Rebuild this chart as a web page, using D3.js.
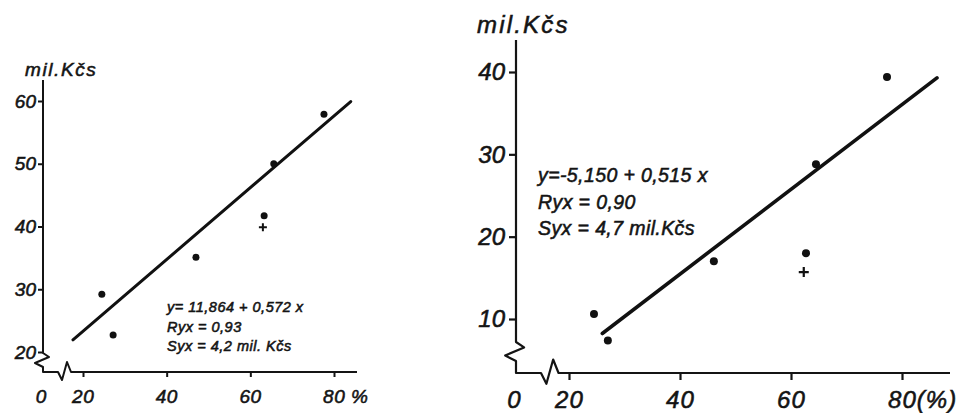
<!DOCTYPE html>
<html>
<head>
<meta charset="utf-8">
<script src="https://cdn.jsdelivr.net/npm/d3@7/dist/d3.min.js"></script>
<style>
  body { margin: 0; background: #fff; }
  svg { display: block; }
  .chart text { font-family: "Liberation Sans", Arial, sans-serif; font-style: italic; fill: #141414; stroke: #141414; stroke-width: 0.55px; }
</style>
</head>
<body>
<svg id="chart" width="970" height="413"></svg>
<script>
// Shared x ticks (share in %)
const xTicks = [20, 40, 60, 80];

// Left panel: observed values (x in %, y in mil. Kčs)
const leftYTicks = [20, 30, 40, 50, 60];
const leftX = [24.5, 27.2, 47.0, 63.3, 65.6, 77.6];
const leftY = [29.2, 22.7, 35.1, 41.7, 50.0, 57.9];
const leftCrossX = [63.0];
const leftCrossY = [39.9];
const leftFitCoef = [11.864, 0.572];
const leftFitRange = [17.6, 84];
const leftStats = ["y= 11,864 + 0,572 x", "Ryx = 0,93", "Syx = 4,2 mil. Kčs"];

// Right panel
const rightYTicks = [10, 20, 30, 40];
const rightX = [24.5, 27.0, 46.1, 62.7, 64.5, 77.3];
const rightY = [10.6, 7.4, 17.0, 18.0, 28.8, 39.4];
const rightCrossX = [62.3];
const rightCrossY = [15.7];
const rightFitCoef = [-5.150, 0.515];
const rightFitRange = [26, 86.3];
const rightStats = ["y=-5,150 + 0,515 x", "Ryx = 0,90", "Syx = 4,7 mil.Kčs"];

const unitLabel = "mil.Kčs";

const svg = d3.select("#chart");
const chart = svg.append("g").attr("class", "chart");

function panel(cfg) {
  const x = d3.scaleLinear().domain([20, 80]).range(cfg.xRange);
  const y = d3.scaleLinear().domain(cfg.yDomain).range(cfg.yRange);
  const g = chart.append("g");
  const ox = cfg.ox, oy = cfg.oy, s = cfg.brk;

  // axis lines with break marks near the origin
  const yb = cfg.yBreak;
  const axisPts = [
    [ox, cfg.yTop], [ox, yb],
    [ox + 6 * s, yb + 4 * s], [ox - 8 * s, yb + 10 * s], [ox, yb + 14 * s],
    [ox, oy],
    [ox + cfg.xBreak, oy], [ox + cfg.xBreak + 4 * s, oy + 8 * s],
    [ox + cfg.xBreak + 9 * s, oy - 10 * s], [ox + cfg.xBreak + 13 * s, oy],
    [cfg.xEnd, oy]
  ];
  g.append("path")
    .attr("d", d3.line()(axisPts))
    .attr("fill", "none").attr("stroke", "#141414")
    .attr("stroke-width", cfg.axisW).attr("stroke-linejoin", "round");

  // y axis ticks and labels
  const ya = g.append("g").attr("transform", `translate(${ox},0)`)
    .call(d3.axisLeft(y).tickValues(cfg.yTicks).tickSize(cfg.tickLen).tickPadding(cfg.yPad));
  ya.select(".domain").remove();
  ya.selectAll("line").attr("stroke", "#141414").attr("stroke-width", cfg.axisW);
  ya.selectAll("text").attr("font-family", null).style("font-size", cfg.tickFont + "px")
    .attr("fill", "#141414");

  // x axis ticks and labels
  const xa = g.append("g").attr("transform", `translate(0,${oy})`)
    .call(d3.axisBottom(x).tickValues(xTicks).tickSize(cfg.tickLen)
      .tickFormat(d => d === 80 ? "80" + cfg.pctSuffix : String(d)));
  xa.select(".domain").remove();
  xa.selectAll("line").attr("stroke", "#141414").attr("stroke-width", cfg.axisW);
  xa.selectAll("text").attr("font-family", null).style("font-size", cfg.tickFont + "px")
    .attr("fill", "#141414")
    .attr("text-anchor", "start").attr("dx", "-0.6em")
    .attr("y", cfg.xLabelY).attr("dy", 0)
    .style("letter-spacing", cfg.xLs + "px");

  // origin label
  g.append("text").attr("x", ox + cfg.zeroDx).attr("y", oy + cfg.xLabelY)
    .attr("text-anchor", "middle").style("font-size", cfg.tickFont + "px").text("0");

  // unit label
  g.append("text").attr("x", cfg.unitPos[0]).attr("y", cfg.unitPos[1])
    .style("font-size", cfg.unitFont + "px").style("letter-spacing", cfg.unitLs + "px")
    .text(unitLabel);

  // regression line
  const [a, b] = cfg.coef;
  g.append("line")
    .attr("x1", x(cfg.fitRange[0])).attr("y1", y(a + b * cfg.fitRange[0]))
    .attr("x2", x(cfg.fitRange[1])).attr("y2", y(a + b * cfg.fitRange[1]))
    .attr("stroke", "#111").attr("stroke-width", cfg.fitW).attr("stroke-linecap", "round");

  // observed points
  g.selectAll("circle.pt").data(d3.zip(cfg.xs, cfg.ys)).join("circle")
    .attr("class", "pt")
    .attr("cx", d => x(d[0])).attr("cy", d => y(d[1])).attr("r", cfg.r).attr("fill", "#111");

  // cross markers
  const c = cfg.cross;
  g.selectAll("path.cross").data(d3.zip(cfg.cxs, cfg.cys)).join("path")
    .attr("class", "cross")
    .attr("d", d => `M${x(d[0]) - c},${y(d[1])}H${x(d[0]) + c}M${x(d[0])},${y(d[1]) - c}V${y(d[1]) + c}`)
    .attr("stroke", "#111").attr("stroke-width", cfg.axisW);

  // regression statistics
  g.append("g").selectAll("text").data(cfg.stats).join("text")
    .attr("x", cfg.statsPos[0]).attr("y", (d, i) => cfg.statsPos[1] + i * cfg.statsLead)
    .style("font-size", cfg.statsFont + "px").style("letter-spacing", cfg.statsLs + "px")
    .text(d => d);
}

panel({
  xRange: [83, 334], yDomain: [20, 60], yRange: [352, 101],
  ox: 43, oy: 372, yTop: 80, yBreak: 353, xBreak: 15, xEnd: 357, brk: 1,
  axisW: 2, tickLen: 5, yPad: 2, tickFont: 19, xLabelY: 31, xLs: 0.5, zeroDx: -2, pctSuffix: " %",
  unitPos: [25, 76], unitFont: 19, unitLs: 1.6,
  yTicks: leftYTicks, xs: leftX, ys: leftY, cxs: leftCrossX, cys: leftCrossY,
  coef: leftFitCoef, fitRange: leftFitRange, fitW: 3, r: 3.5, cross: 4,
  stats: leftStats, statsPos: [167, 312], statsLead: 19.5, statsFont: 14.5, statsLs: 0.5
});

panel({
  xRange: [569, 902], yDomain: [10, 40], yRange: [319, 72],
  ox: 516, oy: 373, yTop: 40, yBreak: 342, xBreak: 25, xEnd: 950, brk: 1.35,
  axisW: 2.2, tickLen: 7, yPad: 4, tickFont: 24, xLabelY: 35, xLs: 1, zeroDx: -2, pctSuffix: "(%)",
  unitPos: [477, 33], unitFont: 24, unitLs: 2.2,
  yTicks: rightYTicks, xs: rightX, ys: rightY, cxs: rightCrossX, cys: rightCrossY,
  coef: rightFitCoef, fitRange: rightFitRange, fitW: 3.6, r: 4, cross: 5,
  stats: rightStats, statsPos: [538, 182], statsLead: 26.5, statsFont: 19.5, statsLs: 0.4
});
</script>
</body>
</html>
